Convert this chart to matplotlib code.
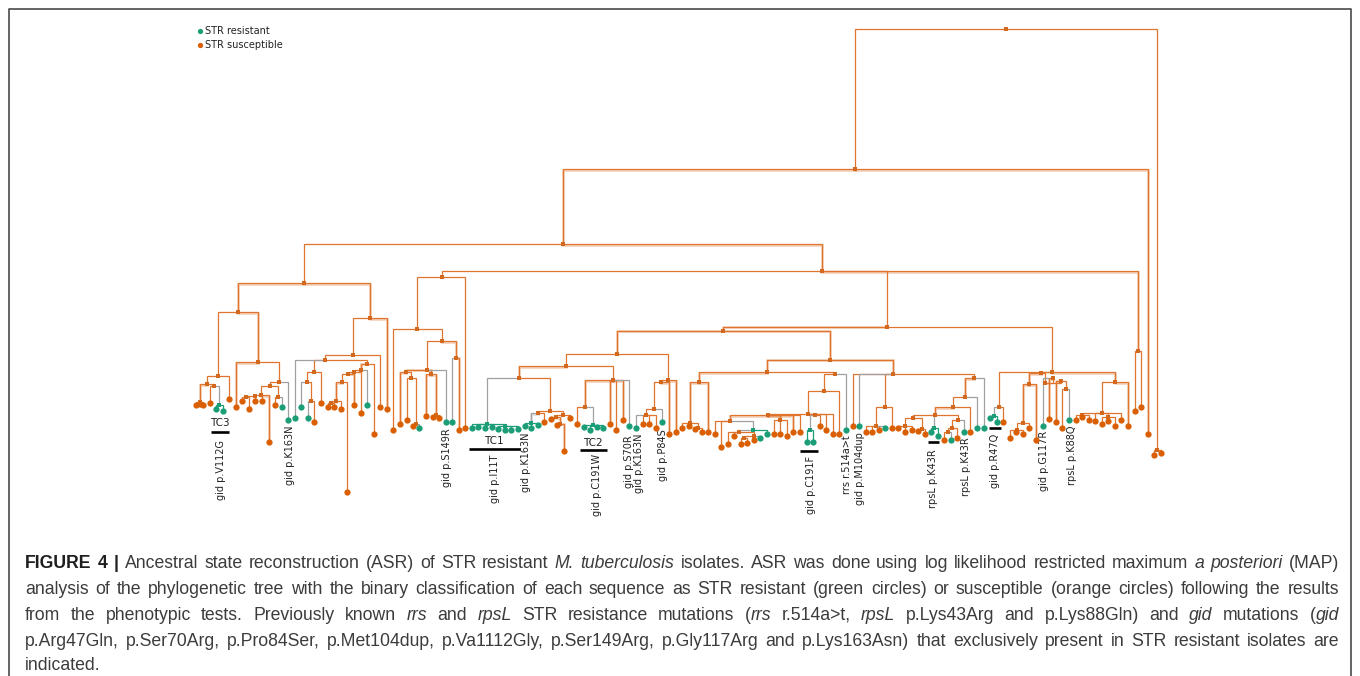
import matplotlib
matplotlib.use('Agg')
import matplotlib.pyplot as plt

ORANGE = '#d95f02'
GREEN = '#1b9e77'
LINE_ORANGE = '#e0752f'
GRAY = '#a0a0a0'

# internal nodes (x, y in image pixels)
node_name = ['root', 'n1', 'n2', 'rt', 'a', 'b', 'c', 'd', 'e', 'f', 'g', 'h', 'i',
             'k', 'l', 'm', 'n', 'p', 'q',
             'r', 't', 'u', 'v', 'w', 'x', 'y', 'z', 'aa', 'ab', 'ac', 'ad',
             'n4', 'ba', 'bb', 'bc', 'bd', 'be', 'bf', 'bg', 'bh', 'bi', 'bj', 'bk', 'bl',
             'ca', 'cb', 'cc', 'cd', 'ce', 'cf', 'cg', 'ch', 'ci', 'cp', 'cj', 'ck', 'cl', 'cm', 'cn', 'co',
             'cr', 'cs', 'ct', 'cu', 'cv',
             'c2', 'c3', 'da', 'db', 'dc', 'de', 'df', 'dg', 'dh', 'di', 'dj', 'dk', 'dl', 'dm', 'dn', 'dp', 'dq',
             'dr', 'ds', 'dt', 'dv', 'dw', 'dx', 'dy', 'dz', 'ea', 'eb', 'ec', 'ed', 'ee',
             'ef', 'eg', 'eh', 'ei', 'ej', 'ek', 'el', 'em', 'en', 'eo', 'e5', 'ep', 'er', 'es']
node_parent = [None, 'root', 'n1', 'root', 'n2', 'a', 'a', 'b', 'b', 'd', 'f', 'f', 'h',
               'e', 'k', 'l', 'l', 'm', 'p',
               'c', 'r', 't', 't', 'u', 'w', 'v', 'y', 'z', 'aa', 'ab', 'ac',
               'n2', 'n4', 'n4', 'n4', 'ba', 'bd', 'be', 'be', 'bf', 'bf', 'bh', 'bj', 'bi',
               'bb', 'bb', 'ca', 'ca', 'cc', 'cc', 'ce', 'ce', 'cg', 'ci', 'cg', 'cj', 'cj', 'ck', 'cl', 'cn',
               'ch', 'cr', 'cf', 'ct', 'cu',
               'cd', 'cd', 'c2', 'c2', 'da', 'dc', 'db', 'df', 'dg', 'dg', 'di', 'dh', 'dh', 'dk', 'dm', 'dn', 'dp',
               'c3', 'c3', 'dr', 'ds', 'dv', 'dw', 'dx', 'dx', 'dx', 'dy', 'dy', 'ea', 'ed',
               'cb', 'cb', 'cb', 'ef', 'eg', 'eg', 'ej', 'el', 'ek', 'en', 'ek', 'eh', 'ep', 'ep']
node_x = [1006, 855, 563, 1157, 304, 238, 370, 218, 258, 207, 200, 214.4, 219.3,
          279.3, 270, 261.3, 278.3, 254.7, 245.7,
          352.7, 325.3, 313.7, 367.3, 306.7, 311.3, 360.7, 354.3, 347.7, 341.7, 335.7, 331,
          822, 441.7, 887, 1138, 417.3, 441.7, 427.3, 455.7, 405.7, 431, 411.3, 416, 436,
          723.3, 1051.7, 617.3, 830, 565.7, 668.3, 518.7, 612.7, 487, 505, 550.3, 537.7, 563.3, 531, 555.7, 560,
          585.3, 593.3, 661.3, 654, 645.7,
          767, 892.7, 699, 835, 689.7, 698, 824, 808.3, 768, 814.7, 810, 729.7, 780.3, 753.3, 739, 754.3, 744.3,
          885.3, 974.3, 875.7, 965, 953, 935.3, 913.3, 934.3, 958.3, 905, 921.7, 952.3, 947.7,
          998.7, 1041.3, 1115.3, 993.7, 1029.3, 1045, 1022.7, 1016.7, 1060.7, 1065.7, 1053.3, 1102, 1081.7, 1108.3]
node_y = [29, 169, 244, 450, 283, 312, 318, 376, 362, 384, 402, 386.3, 405,
          382, 386.3, 395, 397, 396, 397,
          355.3, 359.7, 372, 363.7, 382.3, 401, 370, 371.7, 373.7, 382.3, 401, 403,
          271, 276.7, 326.7, 351, 328.7, 341, 369.7, 357.7, 372, 374.3, 378.3, 424, 415,
          330.7, 372.3, 353.5, 359.7, 366, 380, 378.3, 380.3, 424, 426, 411.3, 413, 415.3, 423, 417.3, 423.7,
          407, 425, 382.3, 409.3, 415.3,
          372, 374, 382.3, 374, 423.3, 428, 390.7, 413.7, 415.3, 415, 430, 421.3, 420, 430, 431.7, 435.7, 438,
          407.3, 378.3, 425.7, 396.7, 407.3, 415.3, 417.5, 428, 420, 425.7, 429, 428.3, 432.3,
          407.3, 373.3, 382.3, 416, 384.3, 382.7, 423.3, 430, 380.7, 389, 378.3, 413.3, 415, 417.3]
resistant_nodes = ['i', 'ci', 'cp', 'cm', 'cs', 'dj', 'dm', 'dz', 'ei']
pale_nodes = ['n2', 'n4', 'c', 'b', 'g', 'e', 'y', 'bg', 'bh', 'bi', 'bc', 'cg', 'ca', 'cc', 'cd', 'c2', 'c3', 'da',
              'dc', 'dk', 'dl', 'ej', 'el', 'eh', 'dv', 'dx', 'cr', 'co', 'cm', 'bl', 'ad', 'ac']

# tips, grouped by parent
tip_parent = ['n1', 'rt', 'rt', 'd', 'g', 'g', 'g', 'h', 'i', 'i', 'e', 'k', 'n', 'n', 'q', 'q', 'p', 'm', 'm',
              'c', 'r', 't', 'u', 'w', 'x', 'x', 'v', 'y', 'z', 'aa', 'ab', 'ad', 'ad', 'ac',
              'bc', 'bc', 'ba', 'bd', 'bf', 'bh', 'bj', 'bk', 'bk', 'bi', 'bl', 'bl', 'bg', 'bg',
              'ci', 'ci', 'ci', 'ci', 'cp', 'cp', 'cp', 'cp', 'cm', 'cm', 'cm', 'ck', 'cl', 'cn', 'co', 'co',
              'ch', 'ch', 'ch', 'ch', 'cr', 'cs', 'cs', 'cs', 'cs',
              'cf', 'ct', 'cu', 'cv', 'cv', 'cv', 'cv',
              'da', 'dc', 'dc', 'de', 'de', 'db', 'df', 'dg', 'dg', 'di', 'dj', 'dj',
              'dh', 'dh', 'dk', 'dk', 'dm', 'dn', 'dn', 'dp', 'dp', 'dq', 'dq', 'dl', 'dl', 'dl',
              'c3', 'c3', 'dr', 'dt', 'dt', 'dt', 'dt', 'ds', 'dv', 'dw',
              'eb', 'eb', 'eb', 'ec', 'ec', 'dz', 'dz', 'ea', 'ed', 'ee', 'ee',
              'ef', 'ei', 'ei', 'ej', 'el', 'em', 'em', 'em', 'e5', 'e5', 'en', 'eo', 'eo',
              'eh', 'ep', 'ep', 'er', 'er', 'er', 'es', 'es', 'es']
tip_x = [1148, 1154, 1161, 229, 196.3, 199.7, 203, 209.6, 216.3, 222.7, 235.7, 288.3, 275.3, 281.7, 242.3, 249, 255.3, 262, 268.7,
         386.7, 380, 295, 321.3, 301.3, 308, 314.3, 373.7, 367, 360.7, 354, 347.3, 327.7, 334.3, 340.7,
         1135, 1141, 465.3, 393.3, 445.7, 400, 406.7, 413, 419.3, 426, 432.7, 439.3, 452.3, 459,
         472, 478.3, 485, 491.7, 498.3, 505, 511.3, 518, 524.7, 531, 537.7, 544.3, 570.3, 550.7, 557.3, 563.7,
         610, 616.3, 623, 629.3, 577, 583.7, 590.3, 596.7, 603.3,
         675.7, 669, 662.3, 636, 642.7, 649, 655.7,
         708.3, 682, 688.7, 695, 701.7, 846, 839.3, 826.3, 832.7, 819.7, 806.7, 813.3,
         793.3, 800, 715, 721.3, 767, 727.7, 734.3, 754, 760.3, 741, 747.3, 773.7, 780.3, 786.7,
         852.7, 859, 891.7, 865.7, 872.3, 878.7, 885.3, 983.7, 977, 970.3,
         898.3, 905, 911.7, 918.3, 924.7, 931, 937.7, 963.7, 957.3, 944, 950.7,
         1003.3, 990.3, 997, 1036, 1029.3, 1010, 1016.3, 1022.7, 1042.7, 1049.3, 1055.7, 1062.3, 1069,
         1128, 1095.3, 1121.3, 1075.7, 1082.3, 1088.7, 1102, 1108.3, 1115]
tip_y = [434, 455, 453, 399, 405, 404, 405, 403, 409.3, 411.3, 407, 419.7, 405, 407, 401, 409.3, 401, 401, 442.3,
         409.3, 407.3, 417.7, 403.3, 407.3, 417.7, 421.7, 434, 405, 413.3, 405, 492, 407, 407, 409.3,
         411, 407, 428, 430, 421.7, 423.7, 419.7, 425.7, 428, 415.7, 416.7, 417.7, 421.7, 430,
         428, 426.7, 428, 426.7, 429, 430, 430, 429, 426, 428, 424.7, 421.7, 417.7, 418.7, 424.7, 450.7,
         424, 430, 419.7, 426, 424, 427, 430, 427, 428,
         432, 434.3, 421.7, 428, 424, 424, 428,
         432, 428, 425.7, 429, 432, 430, 434.3, 430, 434.3, 425.7, 442.3, 442.3,
         432.3, 432.3, 434.3, 446.7, 434.3, 444.3, 436.3, 440.3, 438.3, 444.3, 443.3, 434.3, 434.3, 436.3,
         425.7, 425.7, 428, 432, 432, 430, 428, 428, 428, 432,
         428, 431.7, 430, 431, 434.3, 431.7, 436, 432, 438.3, 440, 440,
         421.7, 417.7, 421.7, 440, 427.7, 438.3, 431.7, 434, 425.7, 419.3, 421.7, 428, 420,
         426, 421.3, 419.7, 419.7, 416.7, 419.7, 423.7, 421.3, 426]
resistant_tips = [216.3, 222.7, 288.3, 281.7, 295, 301.3, 308, 367, 445.7, 419.3, 452.3,
                  472, 478.3, 485, 491.7, 498.3, 505, 511.3, 518, 524.7, 531, 537.7,
                  629.3, 583.7, 590.3, 596.7, 603.3, 662.3, 636,
                  846, 806.7, 813.3, 767, 760.3, 859, 885.3, 983.7, 977, 937.7, 931, 963.7, 950.7,
                  990.3, 997, 1042.7, 1069]
pale_tips = [199.7, 235.7, 268.7, 354, 386.7, 400, 459, 1128, 563.7, 610, 623, 675.7, 669, 708.3, 1036, 1055.7,
             1148, 1049.3, 426, 439.3, 793.3, 626]

# rotated mutation labels: text, x, y of the lower end
label_text = ['gid p.V112G', 'gid p.K163N', 'gid p.S149R', 'gid p.I11T', 'gid p.K163N', 'gid p.C191W',
              'gid p.S70R', 'gid p.K163N', 'gid p.P84S', 'gid p.C191F', 'rrs r.514a>t', 'gid p.M104dup',
              'rpsL p.K43R', 'rpsL p.K43R', 'gid p.R47Q', 'gid p.G117R', 'rpsL p.K88Q']
label_x = [221, 290, 446.7, 495, 526, 596.7, 629.3, 639, 662.7, 811, 847.3, 860, 933.3, 965.7, 995, 1044.3, 1071.7]
label_y = [500, 485, 487, 503, 492, 516, 488, 493, 481, 514, 494, 505, 508, 496, 488, 491, 485]

# black bars under the resistant clades
bar_x0 = [211, 469, 580, 800, 927.7, 989]
bar_x1 = [229, 520, 607, 818.3, 939.3, 1000.7]
bar_y = [432, 449, 450, 451, 442, 428]
clade_text = ['TC3', 'TC1', 'TC2']
clade_x = [220, 494, 593]
clade_y = [423, 441, 443]

legend_text = ['STR resistant', 'STR susceptible']
legend_colour = [GREEN, ORANGE]
legend_y = [30.5, 45.3]

# caption: ^ marks a bold word, _ an italic one, ~ joins two pieces with no space
caption = [
    "^FIGURE ^4 ^| Ancestral state reconstruction (ASR) of STR resistant _M. _tuberculosis isolates. ASR was done using log likelihood restricted maximum _a _posteriori (MAP)",
    "analysis of the phylogenetic tree with the binary classification of each sequence as STR resistant (green circles) or susceptible (orange circles) following the results",
    "from the phenotypic tests. Previously known _rrs and _rpsL STR resistance mutations (~_rrs r.514a>t, _rpsL p.Lys43Arg and p.Lys88Gln) and _gid mutations (~_gid",
    "p.Arg47Gln, p.Ser70Arg, p.Pro84Ser, p.Met104dup, p.Va1112Gly, p.Ser149Arg, p.Gly117Arg and p.Lys163Asn) that exclusively present in STR resistant isolates are",
    "indicated.",
]
caption_y = [563, 589, 615, 641, 666]
caption_left = 25
caption_right = 1339


def branch_colour(parent_res, child_res):
    if parent_res and child_res:
        return GREEN
    if parent_res or child_res:
        return GRAY
    return LINE_ORANGE


def draw_branch(ax, px, py, cx, cy, colour, pale):
    if pale:
        ax.plot([px, cx, cx], [py + 0.6, py + 0.6, cy], color=colour, lw=1.9, alpha=0.34,
                solid_joinstyle='miter', zorder=1)
    ax.plot([px, cx, cx], [py, py, cy], color=colour, lw=0.9, solid_joinstyle='miter', zorder=2)


def draw_caption(ax, fig):
    renderer = fig.canvas.get_renderer()
    for i, line in enumerate(caption):
        words = []
        total = 0
        for word in line.split(' '):
            pieces = []
            for piece in word.split('~'):
                weight, style = 'normal', 'normal'
                colour = '#3c3c3c'
                if piece[0] == '^':
                    piece, weight, colour = piece[1:], 'bold', '#1e1e1e'
                elif piece[0] == '_':
                    piece, style = piece[1:], 'italic'
                t = ax.text(0, caption_y[i], piece, fontsize=12.7, family='Liberation Sans', color=colour,
                            fontweight=weight, fontstyle=style, va='center', ha='left')
                w = t.get_window_extent(renderer).width
                pieces.append((t, w))
                total += w
            words.append(pieces)
        gap = 4.3
        if len(words) > 1 and i < 4:
            gap = (caption_right - caption_left - total) / (len(words) - 1)
        x = caption_left
        for pieces in words:
            for t, w in pieces:
                t.set_x(x)
                x += w
            x += gap


def main():
    fig = plt.figure(figsize=(13.6, 6.76), dpi=100)
    ax = fig.add_axes([0, 0, 1, 1])
    ax.set_xlim(0, 1360)
    ax.set_ylim(676, 0)
    ax.axis('off')

    # frame of the figure panel, open at the bottom
    ax.plot([8.5, 8.5, 1351, 1351], [676, 9, 9, 676], color='#4a4a4a', lw=1.2, zorder=1)

    pos = {}
    for i, name in enumerate(node_name):
        pos[name] = (node_x[i], node_y[i])

    for i, name in enumerate(node_name):
        par = node_parent[i]
        if par is None:
            continue
        col = branch_colour(par in resistant_nodes, name in resistant_nodes)
        draw_branch(ax, pos[par][0], pos[par][1], node_x[i], node_y[i], col, name in pale_nodes)

    for i in range(len(tip_x)):
        par = tip_parent[i]
        res = tip_x[i] in resistant_tips
        col = branch_colour(par in resistant_nodes, res)
        draw_branch(ax, pos[par][0], pos[par][1], tip_x[i], tip_y[i], col, tip_x[i] in pale_tips)

    for i, name in enumerate(node_name):
        col = GREEN if name in resistant_nodes else '#d2691e'
        ax.plot(node_x[i], node_y[i], 's', color=col, ms=2.6, mew=0, zorder=3)

    for i in range(len(tip_x)):
        col = GREEN if tip_x[i] in resistant_tips else ORANGE
        ax.plot(tip_x[i], tip_y[i], 'o', color=col, ms=4.5, mew=0, zorder=4)

    for i in range(len(label_text)):
        ax.text(label_x[i], label_y[i], label_text[i], rotation=90, fontsize=7.0, color='#222222',
                ha='center', va='bottom', family='DejaVu Sans')

    for i in range(len(bar_y)):
        ax.plot([bar_x0[i], bar_x1[i]], [bar_y[i], bar_y[i]], color='black', lw=1.9,
                solid_capstyle='butt', zorder=3)
    for i in range(len(clade_text)):
        ax.text(clade_x[i], clade_y[i], clade_text[i], fontsize=7.5, color='#222222',
                ha='center', va='center', family='DejaVu Sans')

    for i in range(len(legend_text)):
        ax.plot(199.5, legend_y[i], 'o', color=legend_colour[i], ms=3.8, mew=0)
        ax.text(205, legend_y[i], legend_text[i], fontsize=7.0, color='#222222',
                ha='left', va='center', family='DejaVu Sans')

    draw_caption(ax, fig)
    fig.savefig('out.png', dpi=100, facecolor='white')


if __name__ == '__main__':
    main()
